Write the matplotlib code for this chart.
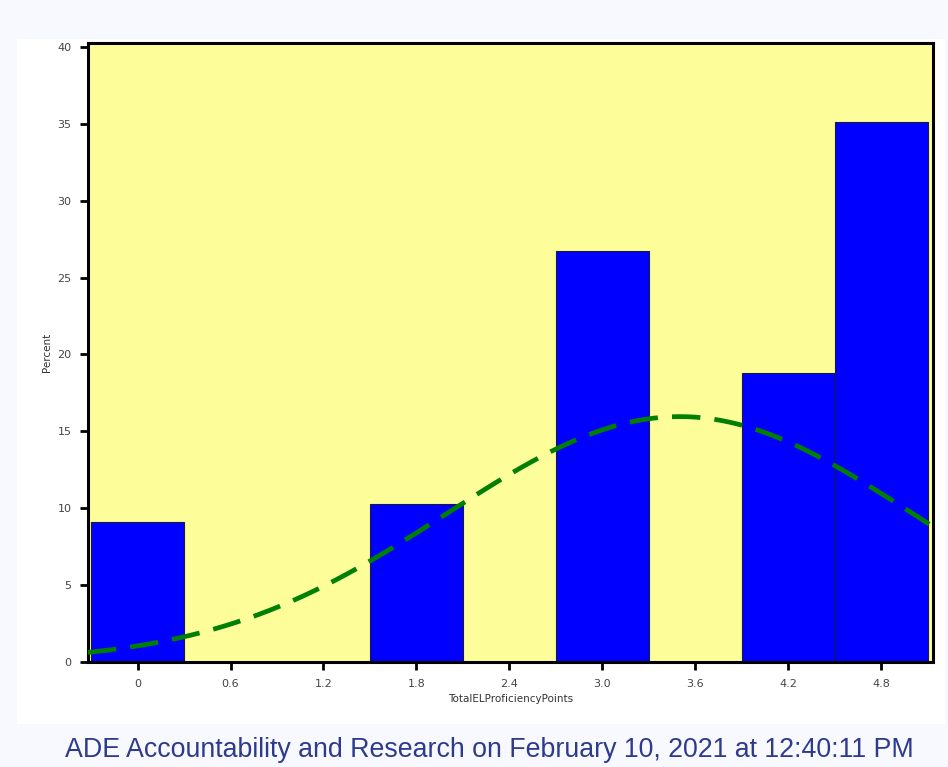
import numpy as np
import matplotlib
matplotlib.use("Agg")
import matplotlib.pyplot as plt

# Data
bin_centers = [0.0, 1.8, 3.0, 4.2, 4.8]
percents = [9.1, 10.3, 26.7, 18.8, 35.1]
bin_width = 0.6
xticks = [0, 0.6, 1.2, 1.8, 2.4, 3.0, 3.6, 4.2, 4.8]
xtick_labels = ["0", "0.6", "1.2", "1.8", "2.4", "3.0", "3.6", "4.2", "4.8"]
yticks = [0, 5, 10, 15, 20, 25, 30, 35, 40]
fit_mean = 3.5
fit_sd = 1.5

W, H = 948, 767
fig = plt.figure(figsize=(W / 100, H / 100), dpi=100)
fig.patch.set_facecolor("#F8F9FE")

# white panel behind the chart
bg = fig.add_axes([17 / W, 1 - 724 / H, (945 - 17) / W, (724 - 39) / H])
bg.set_facecolor("white")
bg.set_xticks([])
bg.set_yticks([])
for s in bg.spines.values():
    s.set_visible(False)
bg.set_zorder(0)

ax = fig.add_axes([88 / W, 1 - 662 / H, (933 - 88) / W, (662 - 43) / H])
ax.set_zorder(1)
ax.set_facecolor("#FDFD9A")
ax.bar(bin_centers, percents, width=bin_width, color="#0000FF",
       edgecolor="#1a1a40", linewidth=0.8, zorder=2)

xs = np.linspace(-0.32, 5.135, 300)
curve = 100 * bin_width / (fit_sd * np.sqrt(2 * np.pi)) * np.exp(-0.5 * ((xs - fit_mean) / fit_sd) ** 2)
ax.plot(xs, curve, color="#008000", linewidth=3.4, linestyle=(0, (6, 3)), zorder=3)

ax.set_xlim(-0.32, 5.135)
ax.set_ylim(0, 40.25)
ax.set_xticks(xticks)
ax.set_xticklabels(xtick_labels)
ax.set_yticks(yticks)
for s in ax.spines.values():
    s.set_linewidth(2.2)
    s.set_color("black")
ax.tick_params(axis="both", direction="out", length=6, width=2, color="black",
               labelsize=8, labelcolor="#444444", pad=6)
ax.set_xlabel("TotalELProficiencyPoints", fontsize=7.5, color="#333333", labelpad=4)
ax.set_ylabel("Percent", fontsize=7.5, color="#333333", labelpad=4)

fig.text(489 / W, 1 - 750 / H,
         "ADE Accountability and Research on February 10, 2021 at 12:40:11 PM",
         ha="center", va="center", fontsize=19.3, color="#2E3A8E",
         family="Liberation Sans")

fig.savefig("out.png", dpi=100, facecolor=fig.get_facecolor())
